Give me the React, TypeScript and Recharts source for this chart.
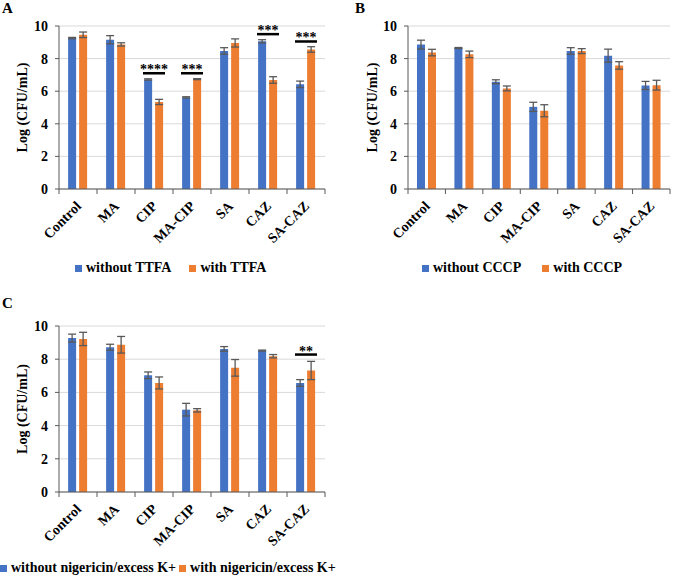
import React from 'react';
import { BarChart, Bar, XAxis, YAxis, CartesianGrid, ErrorBar, Legend, ReferenceDot } from 'recharts';

const FONT = '"Liberation Serif", "Times New Roman", serif';
const BLUE = '#4472C4';
const ORANGE = '#ED7D31';
const AXIS = '#595959';

const categories = ['Control', 'MA', 'CIP', 'MA-CIP', 'SA', 'CAZ', 'SA-CAZ'];
const yTicks = [0, 2, 4, 6, 8, 10];

// Panel A (TTFA)
const ttfaWithout = [9.26, 9.16, 6.72, 5.62, 8.47, 9.06, 6.42];
const ttfaWithoutErr = [0.04, 0.25, 0.04, 0.04, 0.2, 0.1, 0.2];
const ttfaWith = [9.46, 8.87, 5.34, 6.74, 8.96, 6.69, 8.56];
const ttfaWithErr = [0.17, 0.1, 0.16, 0.03, 0.25, 0.2, 0.17];
const ttfaSig = [
  { cat: 'CIP', y: 7.1, label: '****' },
  { cat: 'MA-CIP', y: 7.1, label: '***' },
  { cat: 'CAZ', y: 9.5, label: '***' },
  { cat: 'SA-CAZ', y: 9.05, label: '***' },
];

// Panel B (CCCP)
const cccpWithout = [8.86, 8.65, 6.58, 5.04, 8.47, 8.18, 6.35];
const cccpWithoutErr = [0.27, 0.03, 0.12, 0.28, 0.2, 0.4, 0.25];
const cccpWith = [8.37, 8.26, 6.17, 4.8, 8.46, 7.58, 6.37];
const cccpWithErr = [0.2, 0.2, 0.15, 0.37, 0.15, 0.23, 0.3];

// Panel C (nigericin / excess K+)
const nigWithout = [9.27, 8.72, 7.03, 4.96, 8.62, 8.52, 6.57];
const nigWithoutErr = [0.24, 0.18, 0.2, 0.38, 0.14, 0.03, 0.2];
const nigWith = [9.22, 8.87, 6.57, 4.92, 7.48, 8.18, 7.32];
const nigWithErr = [0.4, 0.5, 0.36, 0.1, 0.5, 0.1, 0.55];
const nigSig = [{ cat: 'SA-CAZ', y: 8.28, label: '**' }];

function buildRows(a: number[], aErr: number[], b: number[], bErr: number[]) {
  return categories.map((name, i) => ({ name, a: a[i], aErr: aErr[i], b: b[i], bErr: bErr[i] }));
}

function CatTick(props: any) {
  const { x, y, payload, index, half } = props;
  const tx = x + 4;
  const ty = y + 18;
  return (
    <g>
      <line x1={x + half} y1={y} x2={x + half} y2={y + 5} stroke={AXIS} strokeWidth={1} />
      {index === 0 && <line x1={x - half} y1={y} x2={x - half} y2={y + 5} stroke={AXIS} strokeWidth={1} />}
      <text
        x={tx}
        y={ty}
        textAnchor="end"
        transform={`rotate(-45, ${tx}, ${ty})`}
        fontFamily={FONT}
        fontWeight="bold"
        fontSize={14}
        fill="#000"
      >
        {payload.value}
      </text>
    </g>
  );
}

function SigShape(props: any) {
  const { cx, cy, label } = props;
  if (cx == null || cy == null) return null;
  return (
    <g>
      <line x1={cx - 11} y1={cy} x2={cx + 11} y2={cy} stroke="#000" strokeWidth={2.5} />
      <text x={cx} y={cy + 1} textAnchor="middle" fontFamily={FONT} fontWeight="bold" fontSize={14} fill="#000">
        {label}
      </text>
    </g>
  );
}

function LegendRow({ names, gap }: { names: string[]; gap: number }) {
  const colors = [BLUE, ORANGE];
  return (
    <div style={{ display: 'flex', alignItems: 'center', whiteSpace: 'nowrap', fontFamily: FONT, fontWeight: 'bold', fontSize: 14, lineHeight: '16px', color: '#000' }}>
      {names.map((n, i) => (
        <div key={n} style={{ display: 'flex', alignItems: 'center', marginLeft: i === 0 ? 0 : gap }}>
          <span style={{ display: 'inline-block', width: 7, height: 7, background: colors[i], marginRight: 4 }} />
          <span>{n}</span>
        </div>
      ))}
    </div>
  );
}

type PanelProps = {
  width: number;
  height: number;
  marginTop: number;
  marginRight: number;
  xAxisHeight: number;
  a: number[]; aErr: number[]; b: number[]; bErr: number[];
  names: string[];
  legendLeft: number; legendTop: number; legendGap: number;
  sig: { cat: string; y: number; label: string }[];
  labelOffset: number;
};

function Panel(p: PanelProps) {
  const data = buildRows(p.a, p.aErr, p.b, p.bErr);
  const plotW = p.width - 59 - p.marginRight;
  const half = plotW / categories.length / 2;
  return (
    <BarChart
      width={p.width}
      height={p.height}
      data={data}
      margin={{ top: p.marginTop, right: p.marginRight, bottom: 0, left: 0 }}
      barCategoryGap="24%"
      barGap={3}
    >
      <CartesianGrid vertical={false} stroke="#d9d9d9" strokeWidth={1} />
      <XAxis
        dataKey="name"
        height={p.xAxisHeight}
        interval={0}
        tickSize={0}
        tickMargin={0}
        tickLine={false}
        axisLine={{ stroke: AXIS, strokeWidth: 1 }}
        tick={<CatTick half={half} />}
      />
      <YAxis
        width={59}
        domain={[0, 10]}
        ticks={yTicks}
        interval={0}
        tickSize={4}
        tickMargin={7}
        axisLine={{ stroke: AXIS, strokeWidth: 1 }}
        tickLine={{ stroke: AXIS }}
        tick={{ fontFamily: FONT, fontWeight: 'bold', fontSize: 14, fill: '#000' }}
        label={{
          value: 'Log (CFU/mL)',
          angle: -90,
          position: 'insideLeft',
          offset: p.labelOffset,
          style: { textAnchor: 'middle', fontFamily: FONT, fontWeight: 'bold', fontSize: 14, fill: '#000' },
        }}
      />
      <Bar dataKey="a" name={p.names[0]} fill={BLUE} isAnimationActive={false}>
        <ErrorBar dataKey="aErr" width={4} stroke={AXIS} strokeWidth={1.3} direction="y" />
      </Bar>
      <Bar dataKey="b" name={p.names[1]} fill={ORANGE} isAnimationActive={false}>
        <ErrorBar dataKey="bErr" width={4} stroke={AXIS} strokeWidth={1.3} direction="y" />
      </Bar>
      {p.sig.map((s) => (
        <ReferenceDot
          key={s.cat}
          x={s.cat}
          y={s.y}
          r={0}
          ifOverflow="visible"
          shape={(sp: any) => <SigShape cx={sp.cx} cy={sp.cy} label={s.label} />}
        />
      ))}
      <Legend
        layout="vertical"
        verticalAlign="middle"
        align="center"
        wrapperStyle={{ left: p.legendLeft, top: p.legendTop, width: 'auto', height: 'auto' }}
        content={() => <LegendRow names={p.names} gap={p.legendGap} />}
      />
    </BarChart>
  );
}

const letterStyle: React.CSSProperties = {
  position: 'absolute',
  fontFamily: FONT,
  fontWeight: 'bold',
  fontSize: 15,
  lineHeight: '15px',
  color: '#000',
};

export default function App() {
  return (
    <div style={{ position: 'absolute', left: 0, top: 0, width: 675, height: 576, background: '#fff', overflow: 'hidden' }}>
      <div style={{ ...letterStyle, left: 2, top: 1 }}>A</div>
      <div style={{ ...letterStyle, left: 355, top: 1 }}>B</div>
      <div style={{ ...letterStyle, left: 2, top: 296 }}>C</div>

      <div style={{ position: 'absolute', left: 0, top: 0 }}>
        <Panel
          width={340} height={290} marginTop={26} marginRight={15} xAxisHeight={101}
          a={ttfaWithout} aErr={ttfaWithoutErr} b={ttfaWith} bErr={ttfaWithErr}
          names={['without TTFA', 'with TTFA']}
          legendLeft={75} legendTop={260} legendGap={18}
          sig={ttfaSig}
          labelOffset={22}
        />
      </div>
      <div style={{ position: 'absolute', left: 349, top: 0 }}>
        <Panel
          width={326} height={290} marginTop={26} marginRight={5} xAxisHeight={101}
          a={cccpWithout} aErr={cccpWithoutErr} b={cccpWith} bErr={cccpWithErr}
          names={['without CCCP', 'with CCCP']}
          legendLeft={73} legendTop={260} legendGap={21}
          sig={[]}
          labelOffset={23}
        />
      </div>
      <div style={{ position: 'absolute', left: 0, top: 285 }}>
        <Panel
          width={340} height={291} marginTop={41} marginRight={15} xAxisHeight={84}
          a={nigWithout} aErr={nigWithoutErr} b={nigWith} bErr={nigWithErr}
          names={['without nigericin/excess K+', 'with nigericin/excess K+']}
          legendLeft={0} legendTop={275} legendGap={3}
          sig={nigSig}
          labelOffset={22}
        />
      </div>
    </div>
  );
}
